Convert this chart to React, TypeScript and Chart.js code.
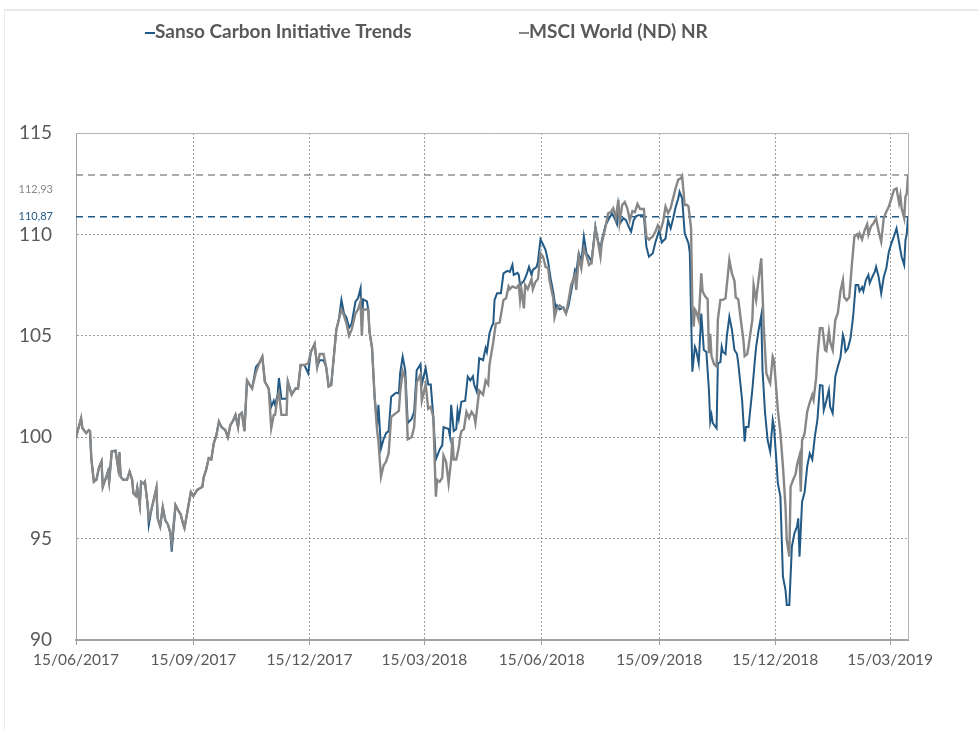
import React, { useEffect, useRef } from "react";
import { Chart, registerables } from "chart.js";

Chart.register(...registerables);

// ---- Data ----
const seriesNames = ["Sanso Carbon Initiative Trends", "MSCI World (ND) NR"];

// x axis: days since 15/06/2017
const tickDays = [0, 92, 183, 273, 365, 457, 548, 638];
const tickLabels = [
  "15/06/2017", "15/09/2017", "15/12/2017", "15/03/2018",
  "15/06/2018", "15/09/2018", "15/12/2018", "15/03/2019",
];
const lastDay = 652;
const yTicks = [90, 95, 100, 105, 110, 115];

const sansoDays = [
  0, 4, 5, 8, 10, 11, 12, 14, 16, 18, 20, 21, 24, 25, 26, 28, 31, 33, 34, 35, 37, 40, 42, 44, 45, 47, 48, 50, 51, 53, 54, 56, 57, 59, 63, 64, 66, 68, 70, 72, 74, 75, 78, 80, 82, 84, 85, 90, 92, 95, 99,
  100, 102, 104, 106, 108, 110, 112, 114, 117, 119, 121, 123, 125, 127, 128, 130, 132, 134, 136, 138, 141, 144, 146, 148, 151, 153, 155, 156, 158, 159, 161, 165, 166, 169, 172, 174, 176, 179, 182, 184, 187, 189, 191, 194, 196, 198,
  200, 204, 206, 208, 210, 212, 214, 216, 219, 221, 223, 224, 225, 228, 229, 230, 232, 234, 236, 237, 239, 241, 243, 245, 247, 249, 251, 253, 254, 256, 258, 260, 263, 265, 267, 270, 271, 274, 276, 278, 280, 282, 285, 287, 288, 292, 293, 294, 296, 298, 299,
  300, 302, 305, 307, 309, 311, 312, 314, 316, 319, 321, 322, 324, 326, 327, 328, 330, 333, 335, 338, 340, 342, 343, 346, 347, 348, 351, 353, 355, 357, 358, 361, 362, 364, 366, 368, 370, 372, 374, 376, 377, 379, 382, 384, 386, 388, 391, 392, 394, 396, 398,
  400, 402, 404, 407, 409, 411, 412, 415, 417, 420, 422, 424, 425, 427, 429, 431, 433, 435, 437, 439, 441, 443, 445, 447, 449, 452, 454, 456, 457, 459, 462, 464, 466, 468, 470, 472, 473, 475, 477, 480, 481, 482, 483, 485, 486, 488, 490, 492, 494, 496, 497, 498, 499,
  502, 503, 505, 506, 507, 509, 510, 512, 514, 516, 518, 519, 522, 524, 525, 527, 530, 532, 533, 535, 537, 538, 540, 542, 544, 546, 547, 549, 550, 552, 554, 556, 557, 559, 561, 563, 565, 566, 567, 569, 571, 573, 575, 577, 579, 581, 583, 585, 586, 588, 590, 591, 593, 595, 597, 599,
  601, 602, 603, 605, 607, 609, 611, 613, 614, 616, 617, 619, 621, 622, 624, 626, 627, 629, 631, 633, 635, 637, 639, 641, 643, 645, 646, 647, 649, 650, 651, 652,
];
const sansoValues = [
  100.0, 100.9, 100.45, 100.2, 100.35, 100.3, 98.95, 97.8, 97.9, 98.5, 98.8, 97.55, 98.1, 98.3, 97.8, 99.3, 99.35, 98.5, 99.25, 98.05, 97.9, 97.9, 98.3, 97.9, 97.23, 97.1, 97.5, 96.65, 97.8, 97.7, 97.8, 96.75, 95.67, 96.4, 97.5, 96.0, 95.6, 96.55, 95.9, 95.7, 95.27, 94.35, 96.65, 96.4, 96.2, 95.7, 95.52, 97.3, 97.1, 97.4, 97.55,
  98.0, 98.4, 98.96, 98.9, 99.7, 100.1, 100.77, 100.5, 100.35, 100.0, 100.6, 100.8, 101.1, 100.5, 101.1, 101.2, 100.3, 102.8, 102.6, 102.4, 103.47, 103.7, 103.97, 102.74, 102.4, 101.5, 101.8, 101.6, 102.1, 102.92, 101.9, 101.9, 102.74, 102.1, 102.4, 102.4, 103.56, 103.56, 103.15, 104.2, 104.6, 103.47, 103.8, 103.8, 103.47, 102.5,
  102.57, 105.3, 105.8, 106.77, 106.1, 105.9, 105.4, 105.6, 106.68, 106.85, 107.34, 105.5, 106.8, 106.7, 106.3, 105.2, 104.4, 102.0, 100.53, 101.6, 99.44, 99.9, 100.2, 100.3, 102.0, 102.1, 102.2, 102.15, 103.15, 103.97, 103.3, 100.7, 100.9, 101.25, 103.3, 103.6, 102.6, 103.4, 102.6, 102.6, 101.0, 98.9, 99.4, 99.6, 100.5, 100.4, 100.05, 101.6, 100.3, 100.4, 101.3,
  100.9, 101.75, 101.8, 102.99, 102.8, 103.0, 102.6, 102.25, 103.9, 103.8, 104.4, 104.2, 105.12, 105.5, 105.6, 106.77, 107.1, 107.1, 108.08, 108.2, 108.15, 108.5, 108.0, 108.1, 108.0, 107.5, 107.7, 108.0, 108.4, 108.0, 108.25, 108.4, 108.65, 109.76, 109.5, 109.23, 108.65, 107.8, 107.17, 106.27, 106.5, 106.3, 106.4, 106.11, 106.5, 107.17, 108.24, 108.1, 109.07, 108.65, 109.9,
  109.07, 108.9, 108.65, 110.38, 109.7, 109.23, 109.7, 110.46, 110.7, 111.04, 110.8, 110.5, 111.45, 110.6, 110.8, 110.7, 110.4, 110.13, 110.7, 110.9, 110.95, 110.95, 110.95, 109.39, 108.9, 109.07, 109.6, 110.0, 110.2, 109.6, 109.8, 110.7, 110.3, 110.8, 111.37, 111.78, 112.1, 111.78, 110.05, 109.56, 109.1, 106.1, 103.23, 104.46, 104.3, 103.64, 106.1, 104.3, 104.2, 102.33, 100.77, 101.1, 100.7,
  100.44, 103.64, 103.7, 104.46, 104.2, 104.1, 104.96, 105.94, 105.3, 104.3, 104.1, 103.64, 101.83, 99.78, 100.5, 100.5, 102.33, 103.8, 104.46, 105.3, 106.0, 103.3, 101.18, 99.86, 99.28, 100.85, 100.5, 98.71, 97.73, 97.07, 93.12, 92.47, 91.73, 91.73, 94.6, 95.26, 95.59, 96.0, 94.11, 96.82, 97.3, 98.55, 99.2, 98.9, 100.03, 100.85, 102.57, 102.55, 101.34, 101.8, 102.33, 101.5, 101.18, 102.98, 103.48, 103.9,
  105.04, 104.8, 104.22, 104.4, 104.9, 105.94, 107.5, 107.5, 107.2, 107.4, 107.2, 107.75, 108.0, 107.6, 107.9, 108.16, 108.4, 107.9, 107.1, 107.9, 108.33, 109.15, 109.56, 109.9, 110.3, 109.6, 109.23, 108.9, 108.5, 109.72, 110.0, 110.87,
];

const msciDays = [
  0, 4, 5, 8, 10, 11, 12, 14, 16, 18, 20, 21, 24, 25, 26, 28, 31, 33, 34, 35, 37, 40, 42, 44, 45, 47, 48, 50, 51, 53, 54, 56, 57, 59, 63, 64, 66, 68, 70, 72, 74, 75, 78, 80, 82, 84, 85, 90, 92, 95, 99,
  100, 102, 104, 106, 108, 110, 112, 114, 117, 119, 121, 123, 125, 127, 128, 130, 132, 134, 136, 138, 141, 144, 146, 148, 151, 153, 155, 156, 158, 159, 161, 165, 166, 169, 172, 174, 176, 179, 182, 184, 187, 189, 191, 194, 196, 198,
  200, 204, 206, 208, 210, 212, 214, 216, 219, 221, 223, 224, 225, 228, 229, 230, 232, 234, 236, 237, 239, 241, 243, 245, 247, 249, 251, 253, 254, 256, 258, 260, 263, 265, 267, 270, 271, 274, 276, 278, 280, 282, 283, 285, 287, 288, 290, 292, 294, 295, 296, 298,
  300, 301, 302, 304, 306, 308, 310, 312, 313, 316, 319, 321, 323, 324, 327, 329, 332, 335, 337, 339, 340, 342, 345, 347, 348, 349, 351, 352, 354, 357, 358, 360, 362, 364, 366, 368, 370, 371, 374, 375, 377, 379, 382, 384, 386, 388, 391, 392, 394, 396, 398,
  400, 402, 404, 407, 409, 411, 412, 415, 417, 419, 421, 423, 425, 426, 428, 430, 432, 434, 436, 438, 440, 442, 445, 447, 449, 452, 454, 456, 458, 460, 462, 464, 466, 468, 470, 472, 474, 475, 477, 479, 480, 482, 483, 484, 485, 486, 488, 490, 491, 493, 495, 496, 497, 498,
  500, 502, 503, 505, 507, 509, 512, 514, 516, 517, 519, 521, 523, 524, 526, 527, 530, 531, 533, 535, 537, 539, 541, 543, 544, 546, 547, 549, 550, 552, 554, 556, 557, 559, 560, 562, 564, 565, 567, 568, 569, 570, 571, 573, 575, 577, 578, 580, 581, 583, 585, 587, 588, 590, 591, 593, 595, 597, 599,
  601, 602, 604, 606, 608, 610, 612, 613, 614, 616, 618, 620, 621, 623, 625, 627, 629, 631, 633, 635, 637, 639, 641, 643, 645, 646, 647, 649, 650, 651, 652,
];
const msciValues = [
  100.0, 100.95, 100.45, 100.2, 100.35, 100.3, 98.95, 97.8, 97.9, 98.5, 98.8, 97.55, 98.1, 98.3, 97.8, 99.3, 99.3, 98.5, 99.25, 98.05, 97.9, 97.9, 98.3, 97.9, 97.23, 97.1, 97.5, 96.65, 97.8, 97.7, 97.8, 96.75, 96.0, 96.4, 97.5, 96.0, 95.6, 96.55, 95.9, 95.7, 95.27, 94.8, 96.65, 96.4, 96.2, 95.7, 95.52, 97.3, 97.1, 97.4, 97.55,
  98.0, 98.4, 98.96, 98.9, 99.7, 100.1, 100.77, 100.5, 100.35, 100.0, 100.6, 100.8, 101.1, 100.5, 101.1, 101.2, 100.3, 102.8, 102.6, 102.4, 103.2, 103.7, 103.97, 102.74, 102.4, 100.44, 101.1, 101.1, 102.0, 102.2, 101.1, 101.1, 102.74, 102.1, 102.4, 102.4, 103.56, 103.56, 103.64, 104.2, 104.6, 103.47, 104.1, 104.1, 103.47, 102.5,
  102.57, 105.3, 105.8, 106.3, 106.0, 105.6, 105.0, 105.3, 106.1, 106.3, 106.7, 105.0, 106.3, 106.3, 106.3, 105.2, 104.4, 102.0, 100.3, 99.8, 98.05, 98.6, 98.8, 99.2, 101.0, 101.1, 101.2, 101.3, 102.2, 103.25, 102.9, 99.9, 100.0, 100.5, 102.7, 103.1, 101.8, 102.6, 101.4, 101.5, 101.0, 97.07, 97.9, 97.8, 98.0, 99.1, 98.8, 97.73, 98.9, 100.0, 98.9, 98.9,
  99.5, 100.0, 100.3, 100.4, 101.25, 100.95, 101.25, 101.05, 100.7, 102.3, 102.1, 102.8, 102.6, 103.56, 104.7, 105.6, 105.65, 106.77, 106.85, 107.43, 107.3, 107.43, 107.35, 107.5, 106.77, 107.3, 106.35, 107.5, 107.3, 107.8, 107.3, 107.65, 107.8, 109.07, 108.9, 108.4, 108.33, 107.76, 106.85, 105.9, 106.37, 106.5, 106.35, 106.11, 106.76, 107.5, 108.0, 107.26, 108.9, 108.33, 109.3,
  108.95, 108.5, 108.6, 110.3, 109.65, 108.9, 109.55, 110.38, 111.04, 111.1, 111.29, 110.8, 111.7, 110.6, 111.45, 111.6, 111.3, 110.7, 111.15, 111.1, 111.5, 111.25, 111.25, 109.9, 109.75, 109.9, 110.13, 110.45, 110.2, 110.6, 111.37, 111.05, 111.3, 111.8, 112.3, 112.7, 112.77, 112.88, 111.45, 111.45, 111.37, 110.3, 106.43, 105.45, 106.3, 106.2, 105.78, 108.08, 107.2, 106.95, 106.8, 104.14, 105.1, 104.0,
  103.6, 103.48, 105.8, 106.77, 106.77, 106.85, 108.74, 108.08, 107.7, 106.9, 106.8, 105.78, 104.8, 104.0, 104.1, 104.46, 105.78, 107.5, 106.77, 107.83, 108.82, 105.4, 103.15, 102.8, 102.66, 103.97, 103.8, 102.17, 101.34, 100.2, 98.56, 96.57, 94.93, 94.11, 97.56, 97.9, 98.2, 98.63, 99.1, 97.31, 99.86, 100.0, 100.2, 101.26, 101.7, 102.08, 101.85, 102.9, 103.97, 105.37, 105.37, 104.3, 104.25, 105.2, 104.7, 104.3, 105.78, 106.11, 107.17,
  107.75, 106.9, 106.75, 106.9, 108.5, 109.9, 110.0, 109.85, 110.05, 109.75, 110.2, 110.5, 110.0, 110.4, 110.55, 110.8, 110.15, 109.64, 110.8, 111.12, 111.37, 111.78, 112.2, 112.27, 111.55, 111.9, 111.3, 110.8, 111.86, 112.0, 112.93,
];

// ---- Styles ----
const BLUE = "#235a85";
const GRAY = "#878787";
const TEXT = "#595959";
const FONT = "Lato, 'Open Sans', 'DejaVu Sans', sans-serif";

const sansoLast = sansoValues[sansoValues.length - 1];
const msciLast = msciValues[msciValues.length - 1];

const fmt = (v: number) => v.toFixed(2).replace(".", ",");

const overlayPlugin = {
  id: "overlay",
  afterDraw(chart: any) {
    const { ctx, chartArea, scales } = chart;
    const y = scales.y;
    ctx.save();
    // frame
    ctx.strokeStyle = "#b4b4b4";
    ctx.lineWidth = 1;
    ctx.beginPath();
    ctx.moveTo(chartArea.left, chartArea.top + 0.5);
    ctx.lineTo(chartArea.right + 0.5, chartArea.top + 0.5);
    ctx.lineTo(chartArea.right + 0.5, chartArea.bottom);
    ctx.stroke();

    // last value labels
    ctx.font = `11px ${FONT}`;
    ctx.textAlign = "right";
    ctx.textBaseline = "middle";
    ctx.fillStyle = GRAY;
    ctx.fillText(fmt(msciLast), 53, y.getPixelForValue(msciLast) + 14);
    ctx.fillStyle = BLUE;
    ctx.fillText(fmt(sansoLast), 53, y.getPixelForValue(sansoLast));

    // legend
    const items = [
      { x: 145, color: BLUE, text: seriesNames[0] },
      { x: 519, color: GRAY, text: seriesNames[1] },
    ];
    ctx.font = `bold 19px ${FONT}`;
    ctx.textAlign = "left";
    items.forEach((it) => {
      ctx.strokeStyle = it.color;
      ctx.lineWidth = 2;
      ctx.beginPath();
      ctx.moveTo(it.x, 33);
      ctx.lineTo(it.x + 10, 33);
      ctx.stroke();
      ctx.fillStyle = TEXT;
      ctx.fillText(it.text, it.x + 10, 32);
    });
    ctx.restore();
  },
};

export default function App() {
  const ref = useRef<HTMLCanvasElement | null>(null);

  useEffect(() => {
    if (!ref.current) return;
    const chart = new Chart(ref.current, {
      type: "line",
      data: {
        datasets: [
          {
            label: seriesNames[0],
            data: sansoDays.map((d, i) => ({ x: d, y: sansoValues[i] })),
            borderColor: BLUE,
            borderWidth: 2,
            pointRadius: 0,
            tension: 0,
            order: 2,
          },
          {
            label: seriesNames[1],
            data: msciDays.map((d, i) => ({ x: d, y: msciValues[i] })),
            borderColor: GRAY,
            borderWidth: 2.4,
            pointRadius: 0,
            tension: 0,
            order: 1,
          },
          {
            label: "ref1",
            data: [{ x: 0, y: msciLast }, { x: lastDay, y: msciLast }],
            borderColor: "#8f8f8f",
            borderWidth: 1.5,
            borderDash: [7, 5],
            pointRadius: 0,
            order: 4,
          },
          {
            label: "ref2",
            data: [{ x: 0, y: sansoLast }, { x: lastDay, y: sansoLast }],
            borderColor: BLUE,
            borderWidth: 1.5,
            borderDash: [7, 5],
            pointRadius: 0,
            order: 3,
          },
        ],
      },
      options: {
        animation: false,
        responsive: false,
        devicePixelRatio: 1,
        layout: { padding: { left: 0, top: 133, right: 70, bottom: 0 } },
        plugins: {
          legend: { display: false },
          tooltip: { enabled: false },
        },
        scales: {
          x: {
            type: "linear",
            min: 0,
            max: lastDay,
            afterBuildTicks: (scale: any) => {
              scale.ticks = tickDays.map((v) => ({ value: v }));
            },
            afterFit: (scale: any) => {
              scale.height = 90;
            },
            ticks: {
              autoSkip: false,
              maxRotation: 0,
              minRotation: 0,
              padding: 6,
              color: TEXT,
              font: { family: FONT, size: 15.5 },
              callback: (v: any) => {
                const i = tickDays.indexOf(Number(v));
                return i >= 0 ? tickLabels[i] : "";
              },
            },
            grid: {
              color: "#9c9c9c",
              lineWidth: 1,
              drawTicks: true,
              tickLength: 5,
              tickColor: "#9c9c9c",
            },
            border: { display: true, color: "#a3a3a3", width: 2, dash: [2, 2] },
          },
          y: {
            min: 90,
            max: 115,
            afterBuildTicks: (scale: any) => {
              scale.ticks = yTicks.map((v) => ({ value: v }));
            },
            afterFit: (scale: any) => {
              scale.width = 76;
            },
            ticks: {
              padding: 24,
              color: TEXT,
              font: { family: FONT, size: 19 },
              callback: (v: any) => String(v),
            },
            grid: {
              color: "#9c9c9c",
              lineWidth: 1,
              drawTicks: false,
            },
            border: { display: true, color: "#a3a3a3", width: 1, dash: [2, 2] },
          },
        },
      },
      plugins: [overlayPlugin],
    });
    return () => chart.destroy();
  }, []);

  return (
    <div style={{ position: "fixed", left: 0, top: 0, width: 978, height: 730, background: "#fff" }}>
      <div
        style={{
          position: "absolute",
          left: 4,
          top: 9,
          width: 980,
          height: 730,
          borderTop: "2px solid #e8e8e8",
          borderLeft: "1px solid #ededed",
        }}
      />
      <canvas ref={ref} width={978} height={730} style={{ position: "absolute", left: 0, top: 0, display: "block" }} />
    </div>
  );
}
